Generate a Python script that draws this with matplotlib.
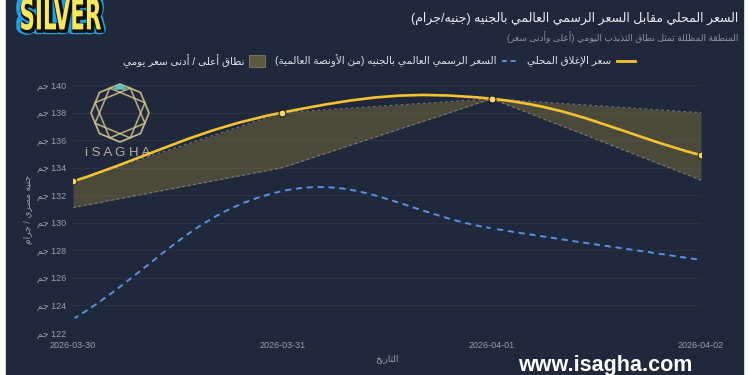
import numpy as np
import matplotlib
matplotlib.use('Agg')
import matplotlib.pyplot as plt
from matplotlib.path import Path
from matplotlib.patches import PathPatch, Rectangle, Polygon
from matplotlib.textpath import TextPath
from matplotlib.font_manager import FontProperties
from matplotlib.transforms import Affine2D, IdentityTransform

plt.rcParams['font.family'] = ['Liberation Sans', 'DejaVu Sans']

# data
dates = ['2026-03-30', '2026-03-31', '2026-04-01', '2026-04-02']
local_close = [133.0, 138.0, 139.0, 134.9]
global_price = [123.0, 132.3, 129.6, 127.3]
day_high = [133.0, 138.0, 139.0, 138.0]
day_low = [131.1, 134.0, 139.0, 133.1]
y_ticks = [122, 124, 126, 128, 130, 132, 134, 136, 138, 140]

title = 'السعر المحلي مقابل السعر الرسمي العالمي بالجنيه (جنيه/جرام)'
subtitle = 'المنطقة المظللة تمثل نطاق التذبذب اليومي (أعلى وأدنى سعر)'
lbl_close = 'سعر الإغلاق المحلي'
lbl_global = 'السعر الرسمي العالمي بالجنيه (من الأونصة العالمية)'
lbl_band = 'نطاق أعلى / أدنى سعر يومي'
unit = 'جم'
ylabel = 'جنيه مصري / جرام'
xlabel = 'التاريخ'

BG = '#1f293b'
GOLD = '#f2c230'
BLUE = '#5b8fe3'
GREY = '#98a1b0'

# --- minimal arabic shaping (matplotlib has no text shaping) ---
def _f(a, n):
    return tuple(chr(a + k) for k in range(n))

FORMS = {
    'ء': _f(0xFE80, 1), 'آ': _f(0xFE81, 2), 'أ': _f(0xFE83, 2), 'ؤ': _f(0xFE85, 2),
    'إ': _f(0xFE87, 2), 'ئ': _f(0xFE89, 4), 'ا': _f(0xFE8D, 2), 'ب': _f(0xFE8F, 4),
    'ة': _f(0xFE93, 2), 'ت': _f(0xFE95, 4), 'ث': _f(0xFE99, 4), 'ج': _f(0xFE9D, 4),
    'ح': _f(0xFEA1, 4), 'خ': _f(0xFEA5, 4), 'د': _f(0xFEA9, 2), 'ذ': _f(0xFEAB, 2),
    'ر': _f(0xFEAD, 2), 'ز': _f(0xFEAF, 2), 'س': _f(0xFEB1, 4), 'ش': _f(0xFEB5, 4),
    'ص': _f(0xFEB9, 4), 'ض': _f(0xFEBD, 4), 'ط': _f(0xFEC1, 4), 'ظ': _f(0xFEC5, 4),
    'ع': _f(0xFEC9, 4), 'غ': _f(0xFECD, 4), 'ف': _f(0xFED1, 4), 'ق': _f(0xFED5, 4),
    'ك': _f(0xFED9, 4), 'ل': _f(0xFEDD, 4), 'م': _f(0xFEE1, 4), 'ن': _f(0xFEE5, 4),
    'ه': _f(0xFEE9, 4), 'و': _f(0xFEED, 2), 'ى': _f(0xFEEF, 2), 'ي': _f(0xFEF1, 4),
}
LAMALEF = {'آ': _f(0xFEF5, 2), 'أ': _f(0xFEF7, 2), 'إ': _f(0xFEF9, 2), 'ا': _f(0xFEFB, 2)}


def shape(s):
    out = []
    i, n = 0, len(s)
    while i < n:
        c = s[i]
        if c not in FORMS:
            out.append(c)
            i += 1
            continue
        prev = s[i - 1] if i > 0 else None
        jp = prev in FORMS and len(FORMS[prev]) == 4 and len(FORMS[c]) >= 2
        if c == 'ل' and i + 1 < n and s[i + 1] in LAMALEF:
            iso, fin = LAMALEF[s[i + 1]]
            out.append(fin if jp else iso)
            i += 2
            continue
        nxt = s[i + 1] if i + 1 < n else None
        jn = len(FORMS[c]) == 4 and nxt in FORMS and len(FORMS[nxt]) >= 2
        f = FORMS[c]
        if jp and jn:
            out.append(f[3])
        elif jp:
            out.append(f[1])
        elif jn:
            out.append(f[2])
        else:
            out.append(f[0])
        i += 1
    return out


def ar(s):
    vis = shape(s)[::-1]
    res, run = [], []
    for c in vis:
        if c.isascii() and (c.isalnum() or c in '.-'):
            run.append(c)
        else:
            res.extend(run[::-1])
            run = []
            res.append({'(': ')', ')': '('}.get(c, c))
    res.extend(run[::-1])
    return ''.join(res)


def spline(ax, xs, ys, t=0.4):
    # chart.js style bezier smoothing, built in pixel space
    p = ax.transData.transform(np.column_stack([xs, ys]))
    n = len(p)
    pc, nc = [], []
    for i in range(n):
        p0 = p[max(i - 1, 0)]
        p1 = p[i]
        p2 = p[min(i + 1, n - 1)]
        d01 = np.hypot(*(p1 - p0))
        d12 = np.hypot(*(p2 - p1))
        s01 = d01 / (d01 + d12)
        s12 = d12 / (d01 + d12)
        pc.append(p1 - t * s01 * (p2 - p0))
        nc.append(p1 + t * s12 * (p2 - p0))
    verts = [p[0]]
    codes = [Path.MOVETO]
    for i in range(n - 1):
        verts += [nc[i], pc[i + 1], p[i + 1]]
        codes += [Path.CURVE4] * 3
    verts = ax.transData.inverted().transform(np.array(verts))
    return Path(verts, codes)


fig = plt.figure(figsize=(7.5, 3.75), dpi=100, facecolor='white')
renderer = fig.canvas.get_renderer()

# overlay in pixel coordinates for background, legend and logos
ov = fig.add_axes([0, 0, 1, 1])
ov.set_xlim(0, 750)
ov.set_ylim(375, 0)
ov.axis('off')
ov.set_zorder(0)
ov.add_patch(Rectangle((6, 0), 737, 375, color=BG, zorder=0))

ax = fig.add_axes([73 / 750, 1 - 333 / 375, 628 / 750, 248 / 375])
ax.set_zorder(1)
ax.patch.set_alpha(0)
x = np.arange(len(dates))
ax.set_xlim(0, 3)
ax.set_ylim(122, 140)
for s in ax.spines.values():
    s.set_visible(False)
ax.set_yticks(y_ticks)
ax.set_yticklabels([ar(unit) + ' ' + str(v) for v in y_ticks])
ax.set_xticks(x)
ax.set_xticklabels(dates)
ax.tick_params(length=0, colors=GREY, labelsize=6.5)
ax.tick_params(axis='y', pad=5)
ax.tick_params(axis='x', pad=6)
ax.grid(axis='y', color='white', alpha=0.05, lw=0.8)
ax.set_xlabel(ar(xlabel), color=GREY, fontsize=6.5, labelpad=3)
ax.set_ylabel(ar(ylabel), color=GREY, fontsize=6.5, labelpad=3)

ax.fill_between(x, day_low, day_high, color='#d4af37', alpha=0.24, lw=0, zorder=2)
ax.plot(x, day_high, color='#b8b8b8', alpha=0.5, lw=0.8, ls=(0, (2.5, 2.5)), zorder=3)
ax.plot(x, day_low, color='#b8b8b8', alpha=0.5, lw=0.8, ls=(0, (2.5, 2.5)), zorder=3)

ax.add_patch(PathPatch(spline(ax, x, global_price), fill=False, edgecolor=BLUE,
                       lw=1.4, ls=(0, (3.2, 2.4)), zorder=4))
ax.plot(x, global_price, 'o', ms=2, color='#1b2a48', zorder=5)
ax.add_patch(PathPatch(spline(ax, x, local_close), fill=False, edgecolor=GOLD,
                       lw=1.9, zorder=6))
ax.plot(x, local_close, 'o', ms=5, mfc='#f3d574', mec='#2b2416', mew=0.8, zorder=7)

# title block
fig.text(738 / 750, 1 - 18 / 375, ar(title), ha='right', va='center',
         fontsize=9, color='#e8ebf0')
fig.text(738 / 750, 1 - 37 / 375, ar(subtitle), ha='right', va='center',
         fontsize=6.5, color='#8c95a5')


def text_w(t):
    return t.get_window_extent(renderer).width


# legend, laid out right to left
ly = 61
xr = 635
ov.plot([xr - 18, xr], [ly, ly], color=GOLD, lw=2, zorder=3)
xr -= 24
t = ov.text(xr, ly, ar(lbl_close), ha='right', va='center', fontsize=7.5, color='#dfe3ea')
xr -= text_w(t) + 10
ov.plot([xr - 15, xr], [ly, ly], color=BLUE, lw=1.4, ls=(0, (2.5, 2)), zorder=3)
xr -= 20
t = ov.text(xr, ly, ar(lbl_global), ha='right', va='center', fontsize=7.5, color='#dfe3ea')
xr -= text_w(t) + 10
ov.add_patch(Rectangle((xr - 16, ly - 6), 16, 12, facecolor='#5e583f', edgecolor='#77705a',
                       lw=0.8, zorder=3))
xr -= 21
ov.text(xr, ly, ar(lbl_band), ha='right', va='center', fontsize=7.5, color='#dfe3ea')

# SILVER badge
tp = TextPath((0, 0), 'SILVER', size=100,
              prop=FontProperties(family=['Liberation Sans Narrow', 'DejaVu Sans'], weight='bold'))
bb = tp.get_extents()
tr = (Affine2D().translate(-bb.x0, -bb.y0)
      .scale(80 / bb.width, 32 / bb.height).translate(21, 375 - 30))
sp = tr.transform_path(tp)
fig.patches.append(PathPatch(sp, facecolor='none', edgecolor='#1e9fe8', lw=7,
                             transform=IdentityTransform(), zorder=5, joinstyle='round'))
fig.patches.append(PathPatch(sp, facecolor='#111111', edgecolor='#111111', lw=3,
                             transform=IdentityTransform() + Affine2D().translate(1.5, -1.5),
                             zorder=6, joinstyle='round'))
fig.patches.append(PathPatch(sp, facecolor='#f6e85e', edgecolor='none',
                             transform=IdentityTransform(), zorder=7))

# iSAGHA watermark
cx, cy, r = 120, 113, 29
ang8 = np.pi / 2 + np.arange(8) * np.pi / 4
ov.add_patch(Polygon(np.column_stack([cx + r * np.cos(ang8), cy - r * np.sin(ang8)]),
                     closed=True, fill=False, edgecolor='#d8c68f', lw=1.3, alpha=0.85, zorder=1))
for off in (np.pi / 8, np.pi / 8 + np.pi / 4):
    ang = off + np.pi / 2 + np.arange(4) * np.pi / 2
    ov.add_patch(Polygon(np.column_stack([cx + 0.93 * r * np.cos(ang), cy - 0.93 * r * np.sin(ang)]),
                         closed=True, fill=False, edgecolor='#d8c68f', lw=1.2,
                         alpha=0.8, zorder=1))
ov.add_patch(Polygon([[cx - 6, cy - r + 5], [cx + 6, cy - r + 5], [cx, cy - r]],
                     color='#5cc3c4', zorder=2))
ov.text(118, 153, 'i S A G H A', ha='center', va='center', fontsize=9.5,
        color='#cfc6ae', alpha=0.85, zorder=1)

ov.text(605, 366, 'www.isagha.com', ha='center', va='center', fontsize=15.5,
        weight='bold', color='white', zorder=3)

fig.savefig('out.png', dpi=100, facecolor=fig.get_facecolor())
